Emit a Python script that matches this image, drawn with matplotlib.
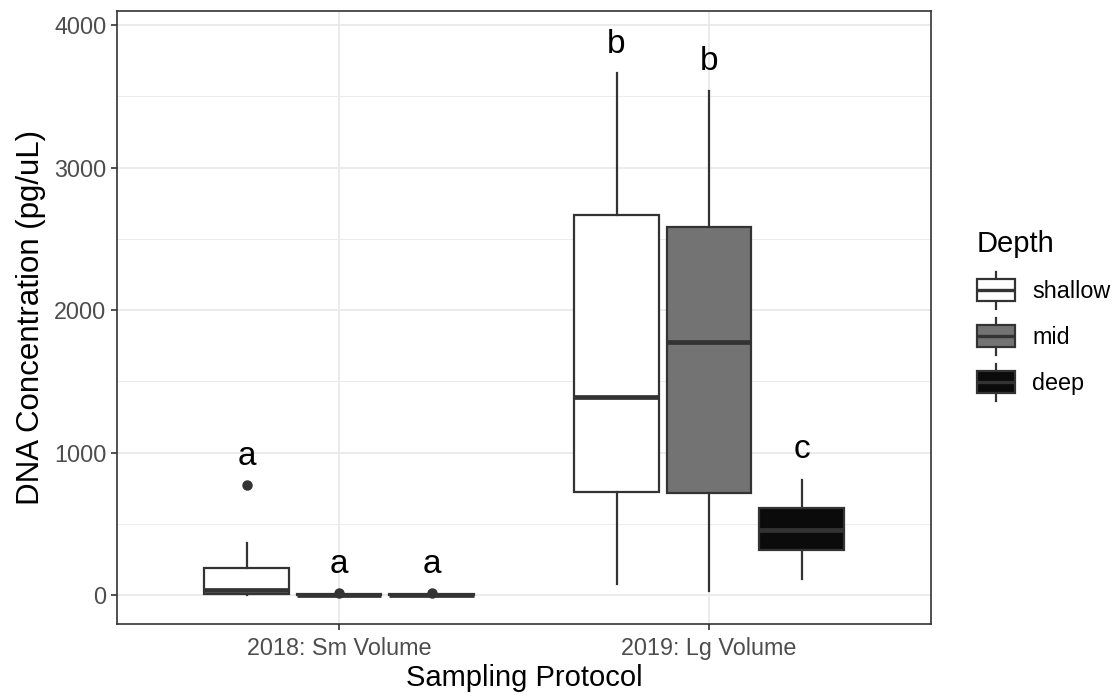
import matplotlib
matplotlib.use("Agg")
import matplotlib.pyplot as plt
from matplotlib.patches import Rectangle, Patch
from matplotlib.lines import Line2D
from matplotlib.legend_handler import HandlerBase

plt.rcParams['font.family'] = ['Liberation Sans', 'DejaVu Sans']

# ---- data ----
categories = ["2018: Sm Volume", "2019: Lg Volume"]
depths = ["shallow", "mid", "deep"]
fills = ["#FFFFFF", "#737373", "#0B0B0B"]

# per depth: values for [2018, 2019]
whislo = {"shallow": [0, 82], "mid": [0, 30], "deep": [0, 112]}
q1 = {"shallow": [7, 726], "mid": [2, 714], "deep": [2, 317]}
med = {"shallow": [37, 1394], "mid": [5, 1775], "deep": [4, 460]}
q3 = {"shallow": [194, 2669], "mid": [8, 2580], "deep": [7, 614]}
whishi = {"shallow": [369, 3664], "mid": [12, 3540], "deep": [10, 810]}
fliers = {"shallow": [[775], []], "mid": [[19], []], "deep": [[13], []]}

letters = {"shallow": ["a", "b"], "mid": ["a", "b"], "deep": ["a", "c"]}
letter_y = {"shallow": [914, 3805], "mid": [154, 3683], "deep": [154, 961]}

yticks = [0, 1000, 2000, 3000, 4000]
yminor = [500, 1500, 2500, 3500]

# ---- figure ----
W, H = 1117, 696
fig = plt.figure(figsize=(W / 100, H / 100), dpi=100)
L, R, T, B = 117, 931, 10.5, 623.5
ax = fig.add_axes([L / W, (H - B) / H, (R - L) / W, (B - T) / H])

edge = "#333333"
offsets = [-0.25, 0.0, 0.25]
bw = 0.228
for di, d in enumerate(depths):
    stats = []
    for ci in range(len(categories)):
        stats.append(dict(med=med[d][ci], q1=q1[d][ci], q3=q3[d][ci],
                          whislo=whislo[d][ci], whishi=whishi[d][ci],
                          fliers=fliers[d][ci]))
    pos = [ci + 1 + offsets[di] for ci in range(len(categories))]
    ax.bxp(stats, positions=pos, widths=bw, patch_artist=True,
           showcaps=False,
           boxprops=dict(facecolor=fills[di], edgecolor=edge, linewidth=1.6),
           medianprops=dict(color=edge, linewidth=3.4, solid_capstyle='butt'),
           whiskerprops=dict(color=edge, linewidth=1.6),
           flierprops=dict(marker='o', markerfacecolor=edge, markeredgecolor=edge,
                           markersize=6.5),
           zorder=3)
    for ci in range(len(categories)):
        ax.text(ci + 1 + offsets[di], letter_y[d][ci], letters[d][ci],
                ha='center', va='baseline', fontsize=24, color='black', zorder=4)

ax.set_xlim(0.4, 2.6)
ax.set_ylim(-198, 4102)
ax.set_xticks([1, 2])
ax.set_xticklabels(categories)
ax.set_yticks(yticks)
ax.set_yticks(yminor, minor=True)
ax.grid(True, which='major', color='#EBEBEB', linewidth=1.4, zorder=0)
ax.grid(True, which='minor', axis='y', color='#EBEBEB', linewidth=0.7, zorder=0)
ax.set_axisbelow(True)
for s in ax.spines.values():
    s.set_color(edge)
    s.set_linewidth(1.2)
ax.tick_params(axis='both', which='major', colors=edge, length=4.5, width=1.2,
               labelcolor='#4D4D4D', labelsize=16.8)
ax.tick_params(axis='x', pad=5)
ax.tick_params(axis='y', pad=3)
ax.tick_params(axis='y', which='minor', length=0)
ax.set_xlabel("Sampling Protocol", fontsize=21, color='black', labelpad=3)
ax.set_ylabel("DNA Concentration (pg/uL)", fontsize=22.5, color='black', labelpad=6)


class BoxHandler(HandlerBase):
    def create_artists(self, legend, orig_handle, xdescent, ydescent, width,
                       height, fontsize, trans):
        fc = orig_handle.get_facecolor()
        x0, y0 = -xdescent, -ydescent
        bh = height * 0.6
        by = y0 + (height - bh) / 2
        cx = x0 + width / 2
        arts = [
            Line2D([cx, cx], [y0, by], color=edge, lw=1.6, transform=trans),
            Line2D([cx, cx], [by + bh, y0 + height], color=edge, lw=1.6, transform=trans),
            Rectangle((x0, by), width, bh, facecolor=fc, edgecolor=edge, lw=1.6,
                      transform=trans),
            Line2D([x0, x0 + width], [by + bh / 2, by + bh / 2], color=edge, lw=2.4,
                   solid_capstyle='butt', transform=trans),
        ]
        return arts


fs_leg = 16.8
px = fs_leg * 100 / 72
handles = [Patch(facecolor=f, edgecolor=edge) for f in fills]
hh = (37 / px - 0.245) / 0.65
leg = fig.legend(handles, depths, title="Depth", loc='upper left',
                 bbox_to_anchor=(977 / W, 1 - 230 / H), frameon=False,
                 handler_map={Patch: BoxHandler()}, fontsize=fs_leg,
                 title_fontsize=21, handlelength=38 / px, handleheight=hh,
                 labelspacing=9 / px, handletextpad=17 / px, alignment='left',
                 borderaxespad=0, borderpad=0)
leg._legend_box.sep = 10

fig.savefig("out.png", dpi=100)
